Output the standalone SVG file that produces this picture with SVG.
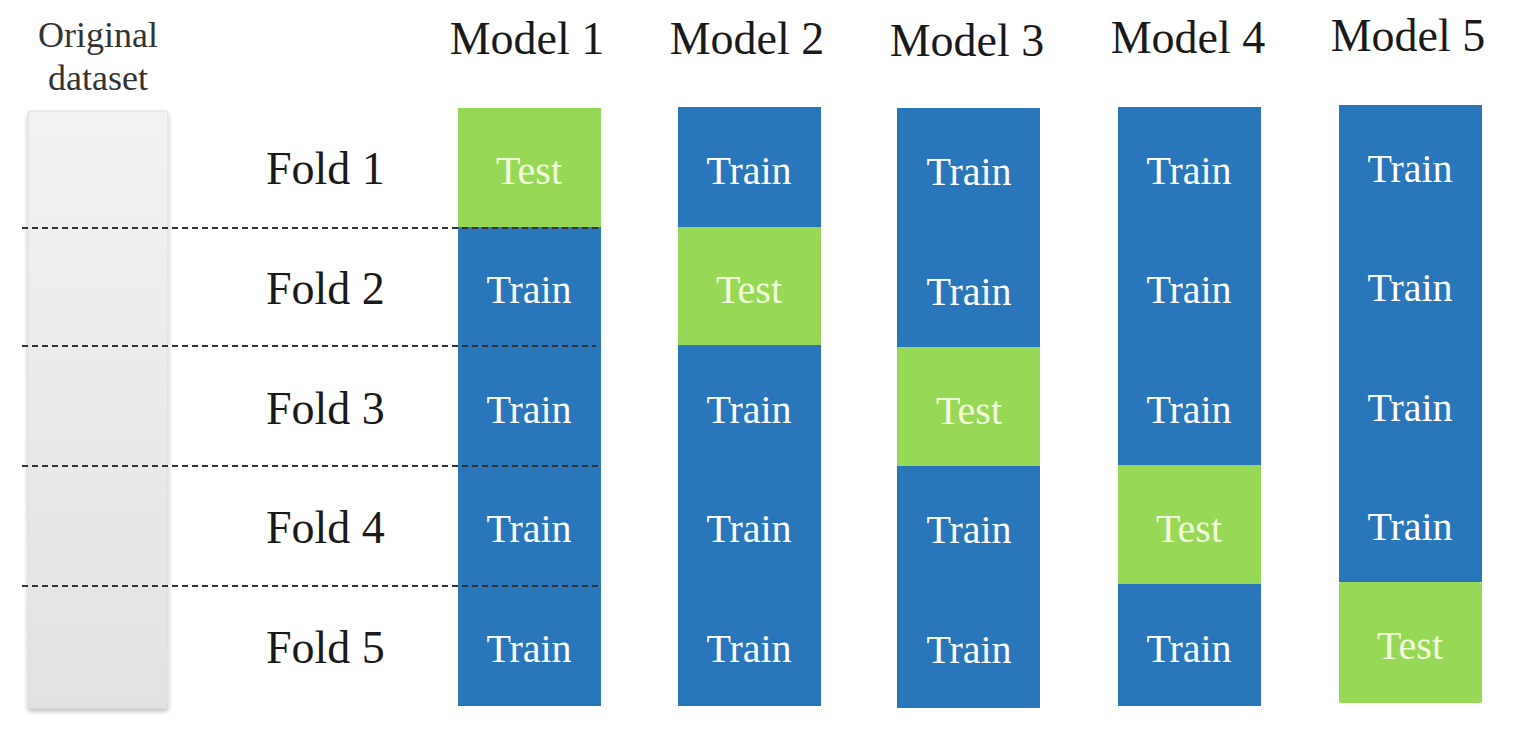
<svg xmlns="http://www.w3.org/2000/svg" width="1514" height="732" viewBox="0 0 1514 732">
<style>
.lbl{font-family:"Liberation Serif","Times New Roman",serif;fill:#1a1a1a;}
.hdr{font-size:46px;text-anchor:middle;}
.fold{font-size:46px;}
.orig{font-size:36px;text-anchor:middle;fill:#333;}
.cell{font-family:"Liberation Serif","Times New Roman",serif;font-size:40px;text-anchor:middle;}
.tr{fill:#2a76bb;}
.te{fill:#97d957;}
.trt{fill:#ffffff;}
.tet{fill:#f2fadc;}
.dash{stroke:#333;stroke-width:2;stroke-dasharray:6 4;fill:none;}
</style>
<defs>
<linearGradient id="g" x1="0" y1="0" x2="0" y2="1">
<stop offset="0" stop-color="#f2f2f2"/>
<stop offset="1" stop-color="#e2e2e2"/>
</linearGradient>
<filter id="sh" x="-20%" y="-5%" width="140%" height="110%">
<feDropShadow dx="0" dy="3" stdDeviation="2" flood-color="#000" flood-opacity="0.25"/>
</filter>
</defs>
<rect width="1514" height="732" fill="#ffffff"/>
<g id="original">
<rect x="28" y="111" width="140" height="597" rx="3" fill="url(#g)" stroke="#dcdcdc" stroke-width="1" filter="url(#sh)"/>
<text class="lbl orig" x="98" y="47">Original</text>
<text class="lbl orig" x="98" y="90">dataset</text>
</g>
<g id="folds">
<text class="lbl fold" x="266" y="184">Fold 1</text>
<text class="lbl fold" x="266" y="304">Fold 2</text>
<text class="lbl fold" x="266" y="424">Fold 3</text>
<text class="lbl fold" x="266" y="543">Fold 4</text>
<text class="lbl fold" x="266" y="663">Fold 5</text>
</g>
<g id="model1">
<text class="lbl hdr" x="527" y="54">Model 1</text>
<rect class="te" x="458" y="108" width="143" height="119"/>
<rect class="tr" x="458" y="227" width="143" height="479"/>
<text class="cell tet" x="529" y="184">Test</text>
<text class="cell trt" x="529" y="303">Train</text>
<text class="cell trt" x="529" y="423">Train</text>
<text class="cell trt" x="529" y="542">Train</text>
<text class="cell trt" x="529" y="662">Train</text>
</g>
<g id="model2">
<text class="lbl hdr" x="747" y="54">Model 2</text>
<rect class="tr" x="678" y="107" width="143" height="120"/>
<rect class="te" x="678" y="227" width="143" height="118"/>
<rect class="tr" x="678" y="345" width="143" height="361"/>
<text class="cell trt" x="749" y="184">Train</text>
<text class="cell tet" x="749" y="303">Test</text>
<text class="cell trt" x="749" y="423">Train</text>
<text class="cell trt" x="749" y="542">Train</text>
<text class="cell trt" x="749" y="662">Train</text>
</g>
<g id="model3">
<text class="lbl hdr" x="967" y="56">Model 3</text>
<rect class="tr" x="897" y="108" width="143" height="239"/>
<rect class="te" x="897" y="347" width="143" height="119"/>
<rect class="tr" x="897" y="466" width="143" height="242"/>
<text class="cell trt" x="969" y="185">Train</text>
<text class="cell trt" x="969" y="305">Train</text>
<text class="cell tet" x="969" y="424">Test</text>
<text class="cell trt" x="969" y="543">Train</text>
<text class="cell trt" x="969" y="663">Train</text>
</g>
<g id="model4">
<text class="lbl hdr" x="1188" y="53">Model 4</text>
<rect class="tr" x="1118" y="107" width="143" height="358"/>
<rect class="te" x="1118" y="465" width="143" height="119"/>
<rect class="tr" x="1118" y="584" width="143" height="122"/>
<text class="cell trt" x="1189" y="184">Train</text>
<text class="cell trt" x="1189" y="303">Train</text>
<text class="cell trt" x="1189" y="423">Train</text>
<text class="cell tet" x="1189" y="542">Test</text>
<text class="cell trt" x="1189" y="662">Train</text>
</g>
<g id="model5">
<text class="lbl hdr" x="1408" y="51">Model 5</text>
<rect class="tr" x="1339" y="105" width="143" height="477"/>
<rect class="te" x="1339" y="582" width="143" height="121" rx="2"/>
<text class="cell trt" x="1410" y="182">Train</text>
<text class="cell trt" x="1410" y="301">Train</text>
<text class="cell trt" x="1410" y="421">Train</text>
<text class="cell trt" x="1410" y="540">Train</text>
<text class="cell tet" x="1410" y="659">Test</text>
</g>
<g id="connectors">
<line class="dash" x1="22" y1="228" x2="600" y2="228"/>
<line class="dash" x1="22" y1="346" x2="596" y2="346"/>
<line class="dash" x1="22" y1="466" x2="600" y2="466"/>
<line class="dash" x1="22" y1="586" x2="600" y2="586"/>
</g>
</svg>
